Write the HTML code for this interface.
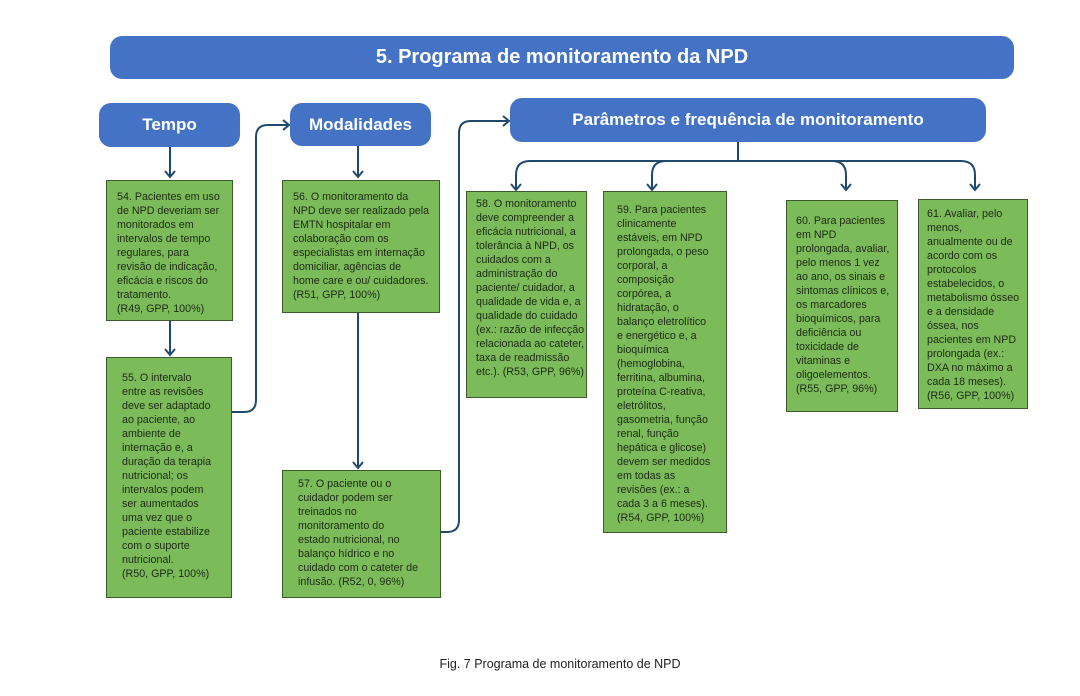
<!DOCTYPE html>
<html><head><meta charset="utf-8"><style>
body{margin:0;width:1080px;height:696px;background:#fff;position:relative;overflow:hidden;font-family:"Liberation Sans",sans-serif}
.hd{position:absolute;background:#4472c4;color:#fff;font-weight:bold;display:flex;align-items:center;justify-content:center;border-radius:12px}
.b{position:absolute;background:#7cbb59;border:1px solid #3d5a2e;box-sizing:border-box;color:#1d2a16;font-size:10.7px;line-height:14px;padding:0 0 0 10px;white-space:nowrap}
.cap{position:absolute;left:0;width:1120px;top:657px;text-align:center;font-size:12.5px;color:#222}
</style></head><body>
<div class="hd" style="left:110px;top:36px;width:904px;height:43px;font-size:20px">5. Programa de monitoramento da NPD</div>
<div class="hd" style="left:99px;top:103px;width:141px;height:44px;font-size:17px">Tempo</div>
<div class="hd" style="left:290px;top:103px;width:141px;height:43px;font-size:17px">Modalidades</div>
<div class="hd" style="left:510px;top:98px;width:476px;height:44px;font-size:17px">Parâmetros e frequência de monitoramento</div>

<svg style="position:absolute;left:0;top:0" width="1080" height="696" fill="none" stroke="#1f4a6e" stroke-width="2">
<path d="M170 147V177M165 171l5 6 5-6"/>
<path d="M170 321V355M165 349l5 6 5-6"/>
<path d="M358 146V177M353 171l5 6 5-6"/>
<path d="M358 313V468M353 462l5 6 5-6"/>
<path d="M232 412H244Q256 412 256 400V137Q256 125 268 125H289M283 120l6 5-6 5"/>
<path d="M441 532H447Q459 532 459 520V133Q459 121 471 121H509M503 116l6 5-6 5"/>
<path d="M738 142V161"/>
<path d="M975 190V175Q975 161 961 161H530Q516 161 516 175V190"/>
<path d="M652 190V175Q652 161 666 161"/>
<path d="M846 190V175Q846 161 832 161"/>
<path d="M511 184l5 6 5-6M647 184l5 6 5-6M841 184l5 6 5-6M970 184l5 6 5-6"/>
</svg>

<div class="b" style="left:106px;top:180px;width:127px;height:141px;padding-top:9px">54. Pacientes em uso<br>de NPD deveriam ser<br>monitorados em<br>intervalos de tempo<br>regulares, para<br>revisão de indicação,<br>eficácia e riscos do<br>tratamento.<br>(R49, GPP, 100%)</div>
<div class="b" style="left:106px;top:357px;width:126px;height:241px;padding-top:13px;padding-left:15px">55. O intervalo<br>entre as revisões<br>deve ser adaptado<br>ao paciente, ao<br>ambiente de<br>internação e, a<br>duração da terapia<br>nutricional; os<br>intervalos podem<br>ser aumentados<br>uma vez que o<br>paciente estabilize<br>com o suporte<br>nutricional.<br>(R50, GPP, 100%)</div>
<div class="b" style="left:282px;top:180px;width:158px;height:133px;padding-top:9px">56. O monitoramento da<br>NPD deve ser realizado pela<br>EMTN hospitalar em<br>colaboração com os<br>especialistas em internação<br>domiciliar, agências de<br>home care e ou/ cuidadores.<br>(R51, GPP, 100%)</div>
<div class="b" style="left:282px;top:470px;width:159px;height:128px;padding-top:6px;padding-left:15px">57. O paciente ou o<br>cuidador podem ser<br>treinados no<br>monitoramento do<br>estado nutricional, no<br>balanço hídrico e no<br>cuidado com o cateter de<br>infusão. (R52, 0, 96%)</div>
<div class="b" style="left:466px;top:191px;width:121px;height:207px;padding-top:5px;padding-left:9px">58. O monitoramento<br>deve compreender a<br>eficácia nutricional, a<br>tolerância à NPD, os<br>cuidados com a<br>administração do<br>paciente/ cuidador, a<br>qualidade de vida e, a<br>qualidade do cuidado<br>(ex.: razão de infecção<br>relacionada ao cateter,<br>taxa de readmissão<br>etc.). (R53, GPP, 96%)</div>
<div class="b" style="left:603px;top:191px;width:124px;height:342px;padding-top:11px;padding-left:13px">59. Para pacientes<br>clinicamente<br>estáveis, em NPD<br>prolongada, o peso<br>corporal, a<br>composição<br>corpórea, a<br>hidratação, o<br>balanço eletrolítico<br>e energético e, a<br>bioquímica<br>(hemoglobina,<br>ferritina, albumina,<br>proteína C-reativa,<br>eletrólitos,<br>gasometria, função<br>renal, função<br>hepática e glicose)<br>devem ser medidos<br>em todas as<br>revisões (ex.: a<br>cada 3 a 6 meses).<br>(R54, GPP, 100%)</div>
<div class="b" style="left:786px;top:200px;width:112px;height:212px;padding-top:13px;padding-left:9px">60. Para pacientes<br>em NPD<br>prolongada, avaliar,<br>pelo menos 1 vez<br>ao ano, os sinais e<br>sintomas clínicos e,<br>os marcadores<br>bioquímicos, para<br>deficiência ou<br>toxicidade de<br>vitaminas e<br>oligoelementos.<br>(R55, GPP, 96%)</div>
<div class="b" style="left:918px;top:199px;width:110px;height:210px;padding-top:7px;padding-left:8px">61. Avaliar, pelo<br>menos,<br>anualmente ou de<br>acordo com os<br>protocolos<br>estabelecidos, o<br>metabolismo ósseo<br>e a densidade<br>óssea, nos<br>pacientes em NPD<br>prolongada (ex.:<br>DXA no máximo a<br>cada 18 meses).<br>(R56, GPP, 100%)</div>

<div class="cap">Fig. 7 Programa de monitoramento de NPD</div>
</body></html>
